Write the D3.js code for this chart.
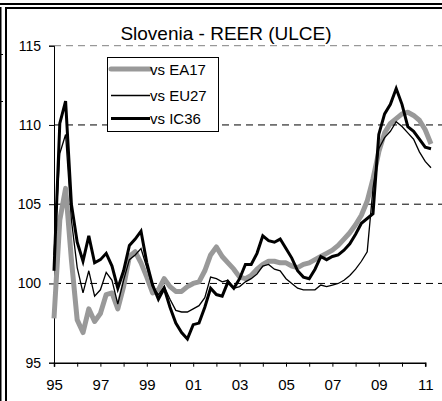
<!DOCTYPE html>
<html>
<head>
<meta charset="utf-8">
<script src="https://cdn.jsdelivr.net/npm/d3@7"></script>
<style>
  body { margin: 0; background: #fff; }
  svg { display: block; font-family: Arial, "Liberation Sans", sans-serif; }
</style>
</head>
<body>
<div id="chart"></div>
<script>
// quarterly data, 1995Q1 .. 2011Q2
var startYear = 1995;
var ea17 = [
  97.8, 104.0, 106.0, 101.5,
  97.7, 96.9, 98.4, 97.6,
  98.1, 99.3, 99.4, 98.4,
  99.8, 101.7, 102.0, 101.3,
  100.4, 99.4, 99.6, 100.3,
  99.8, 99.5, 99.5, 99.8,
  100.0, 100.1, 100.8, 101.8,
  102.3, 101.7, 101.3, 100.9,
  100.4, 100.3, 100.5, 100.9,
  101.2, 101.4, 101.4, 101.3,
  101.3, 101.1, 101.0, 101.2,
  101.3, 101.5, 101.7, 101.9,
  102.1, 102.4, 102.8, 103.2,
  103.7, 104.3, 105.2, 106.6,
  108.3, 109.5, 110.1, 110.4,
  110.7, 110.8, 110.6, 110.3,
  109.7, 108.8
];
var eu27 = [
  101.8, 108.2, 109.4, 104.0,
  101.0, 99.4, 100.8, 99.2,
  99.6, 100.7, 100.2, 98.7,
  100.2, 101.5, 101.8, 102.2,
  101.0, 99.8, 99.3, 99.8,
  99.0, 98.3, 98.2, 98.2,
  98.4, 98.6, 99.1, 100.4,
  100.3, 100.1, 100.2, 99.7,
  99.8, 100.1, 100.3, 100.6,
  101.1, 101.2, 100.9, 100.8,
  100.3, 100.0, 99.7, 99.6,
  99.6, 99.6, 99.9, 99.8,
  99.9, 100.0, 100.2, 100.5,
  100.9, 101.4, 102.0, 106.0,
  108.5, 109.2, 109.6, 110.2,
  109.9, 109.5, 109.1, 108.3,
  107.7, 107.3
];
var ic36 = [
  100.8, 110.1, 111.5, 105.0,
  102.6, 101.4, 103.0, 101.3,
  101.5, 101.9, 101.1, 99.7,
  100.8, 102.4, 102.8, 103.3,
  101.3, 99.9, 99.0, 99.7,
  98.5, 97.5, 96.9, 96.5,
  97.4, 97.5, 98.5, 99.7,
  99.3, 99.2, 100.1, 99.7,
  100.3, 101.2, 101.2, 101.9,
  103.0, 102.7, 102.6, 102.8,
  102.2, 101.6, 100.8, 100.4,
  100.3, 100.9, 101.7, 101.5,
  101.7, 101.8, 102.1, 102.5,
  103.1, 103.8, 104.1, 104.4,
  109.4, 110.7, 111.3, 112.3,
  111.3, 109.9, 109.6, 109.1,
  108.6, 108.5
];
var seriesNames = ['vs EA17', 'vs EU27', 'vs IC36'];
var yTicks = [95, 100, 105, 110, 115];
var xTickYears = d3.range(1995, 2013);
var xLabelYears = [1995, 1997, 1999, 2001, 2003, 2005, 2007, 2009, 2011];

var width = 442, height = 401;
var svg = d3.select('#chart').append('svg').attr('width', width).attr('height', height);

// double frame on top and left
svg.append('rect').attr('x', 0).attr('y', 3).attr('width', width).attr('height', 2).attr('fill', '#000');
svg.append('rect').attr('x', 5).attr('y', 7).attr('width', width - 5).attr('height', 2).attr('fill', '#000');
svg.append('rect').attr('x', 0).attr('y', 7).attr('width', 1.5).attr('height', height - 7).attr('fill', '#000');
svg.append('rect').attr('x', 5).attr('y', 7).attr('width', 2).attr('height', height - 7).attr('fill', '#000');
[54, 101].forEach(function (yy) {
  svg.append('rect').attr('x', 0).attr('y', yy).attr('width', 3).attr('height', 1).attr('fill', '#000');
});

var x = d3.scaleLinear().domain([1995, 2011]).range([54, 425.2]);
var y = d3.scaleLinear().domain([95, 115]).range([362.7, 45.7]);

// gridlines
svg.selectAll('.grid').data(yTicks.slice(1)).enter().append('line')
   .attr('x1', x(1995)).attr('x2', width)
   .attr('y1', function (d) { return y(d); })
   .attr('y2', function (d) { return y(d); })
   .attr('stroke', function (d) { return d === 115 ? '#808080' : '#000'; })
   .attr('stroke-width', 1)
   .attr('stroke-dasharray', '7,5');

// y axis
var yAxis = d3.axisLeft(y).tickValues(yTicks).tickSize(5).tickPadding(8);
var gy = svg.append('g').attr('transform', 'translate(' + x(1995) + ',0)').call(yAxis);
gy.select('.domain').attr('stroke', '#000');
gy.selectAll('text').attr('font-size', 14).attr('font-family', 'Arial, "Liberation Sans", sans-serif').attr('fill', '#000');

// x axis
var xAxis = d3.axisBottom(x).tickValues(xTickYears).tickSize(4).tickPadding(13)
   .tickFormat(function (d) { return xLabelYears.indexOf(d) >= 0 ? String(d).slice(2) : ''; });
var gx = svg.append('g').attr('transform', 'translate(0,' + y(95) + ')').call(xAxis);
gx.select('.domain').attr('stroke', '#000').attr('stroke-width', 1.5);
gx.selectAll('text').attr('font-size', 15).attr('font-family', 'Arial, "Liberation Sans", sans-serif').attr('fill', '#000');

// lines
var line = d3.line()
   .x(function (d, i) { return x(startYear + i / 4); })
   .y(function (d) { return y(d); });

svg.append('path').datum(ea17).attr('d', line).attr('fill', 'none')
   .attr('stroke', '#999999').attr('stroke-width', 5).attr('stroke-linejoin', 'round');
svg.append('path').datum(eu27).attr('d', line).attr('fill', 'none')
   .attr('stroke', '#000').attr('stroke-width', 1.3);
svg.append('path').datum(ic36).attr('d', line).attr('fill', 'none')
   .attr('stroke', '#000').attr('stroke-width', 3);

// title
svg.append('text').attr('x', 226).attr('y', 40).attr('text-anchor', 'middle')
   .attr('font-size', 19).attr('fill', '#000').text('Slovenia - REER (ULCE)');

// legend
var leg = svg.append('g');
leg.append('rect').attr('x', 107.5).attr('y', 57.5).attr('width', 111).attr('height', 74)
   .attr('fill', '#fff').attr('stroke', '#000').attr('stroke-width', 1);
var legStyles = [
  { color: '#999999', w: 5, y: 69 },
  { color: '#000', w: 1.3, y: 95.5 },
  { color: '#000', w: 3, y: 118.5 }
];
seriesNames.forEach(function (name, i) {
  var s = legStyles[i];
  leg.append('line').attr('x1', 111).attr('x2', 150).attr('y1', s.y).attr('y2', s.y)
     .attr('stroke', s.color).attr('stroke-width', s.w).attr('stroke-linecap', i === 0 ? 'round' : 'butt');
  leg.append('text').attr('x', 150).attr('y', s.y + 5.5).attr('font-size', 15).attr('fill', '#000').text(name);
});
</script>
</body>
</html>
